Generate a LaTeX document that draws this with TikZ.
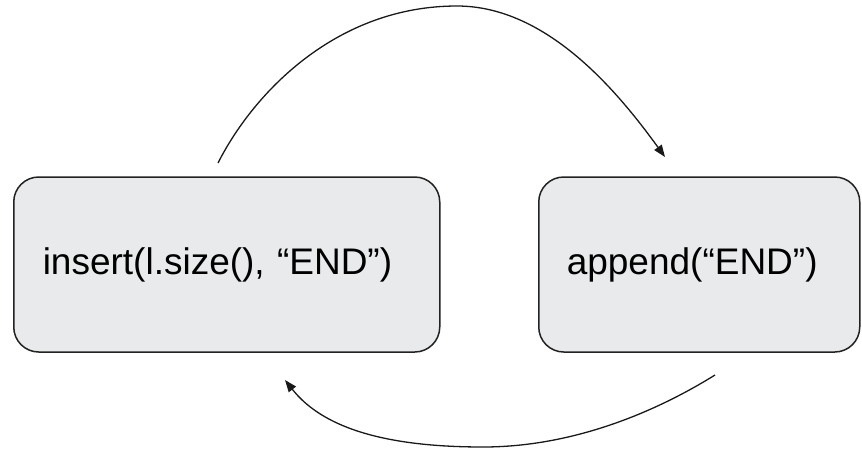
\documentclass[tikz,border=0pt]{standalone}
\usepackage{fontspec}
\setmainfont{Liberation Sans}
\usetikzlibrary{arrows.meta}
\definecolor{boxfill}{RGB}{232,234,235}
\definecolor{boxline}{RGB}{34,34,34}
\tikzset{
  statebox/.style={draw=boxline, line width=1.5pt, fill=boxfill, rounded corners=25pt,
    minimum height=175pt, inner ysep=0pt, align=left, font=\fontsize{37}{44}\selectfont},
  flow/.style={draw=black!90, line width=1.3pt, -{Triangle[length=12pt,width=9pt]}}
}
\begin{document}
\begin{tikzpicture}[x=1pt,y=-1pt]
\useasboundingbox (0,0) rectangle (862,450);
\node[statebox, anchor=west, minimum width=426pt, text width=368pt, inner xsep=29pt] (L) at (13,264.5) {insert(l.size(), “END”)};
\node[statebox, anchor=west, minimum width=321pt, text width=265pt, inner xsep=28pt] (R) at (538,264.5) {append(“END”)};
\coordinate (ts) at (218,163);
\coordinate (tp) at (457,6);
\coordinate (te) at (665,157);
\coordinate (bs) at (715,375);
\coordinate (bp) at (483,447);
\coordinate (be) at (285,380);
\draw[flow] (ts) .. controls (254,92) and (337,6) .. (tp) .. controls (547,6) and (618,92) .. (te);
\draw[flow] (bs) .. controls (655.5,412) and (573,447) .. (bp) .. controls (383,447) and (322,427) .. (be);
\end{tikzpicture}
\end{document}
